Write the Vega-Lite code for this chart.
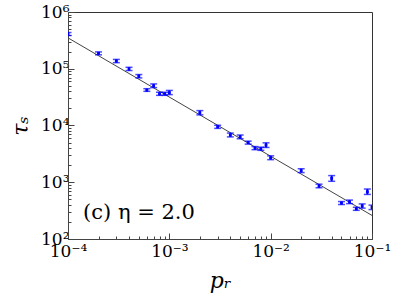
{
  "$schema": "https://vega.github.io/schema/vega-lite/v6.json",
  "width": 304,
  "height": 227,
  "autosize": {"type": "none"},
  "padding": {"left": 68, "top": 12, "right": 26, "bottom": 54},
  "background": "white",
  "config": {
    "view": {"stroke": "#333", "strokeWidth": 1},
    "axis": {
      "domainColor": "#444",
      "tickColor": "#444",
      "labelFont": "DejaVu Serif",
      "labelFontSize": 17,
      "labelColor": "#000",
      "titleFont": "DejaVu Serif",
      "titleFontStyle": "italic",
      "titleFontWeight": "normal",
      "titleColor": "#000",
      "grid": false
    }
  },
  "datasets": {
    "pts": [
      {"p": 0.0001, "tau": 410000, "lo": 385000, "hi": 435000},
      {"p": 0.0002, "tau": 187000, "lo": 176000, "hi": 198000},
      {"p": 0.0003, "tau": 137000, "lo": 128000, "hi": 146000},
      {"p": 0.0004, "tau": 99000, "lo": 93000, "hi": 106000},
      {"p": 0.0005, "tau": 74000, "lo": 69000, "hi": 79000},
      {"p": 0.0006, "tau": 42000, "lo": 40000, "hi": 44500},
      {"p": 0.0007, "tau": 50000, "lo": 46500, "hi": 54000},
      {"p": 0.0008, "tau": 36000, "lo": 34000, "hi": 38500},
      {"p": 0.0009, "tau": 36000, "lo": 34000, "hi": 38500},
      {"p": 0.001, "tau": 38000, "lo": 35000, "hi": 41500},
      {"p": 0.002, "tau": 16800, "lo": 15400, "hi": 18300},
      {"p": 0.003, "tau": 9500, "lo": 8900, "hi": 10100},
      {"p": 0.004, "tau": 6800, "lo": 6300, "hi": 7350},
      {"p": 0.005, "tau": 6300, "lo": 5850, "hi": 6800},
      {"p": 0.006, "tau": 5000, "lo": 4700, "hi": 5300},
      {"p": 0.007, "tau": 4000, "lo": 3750, "hi": 4250},
      {"p": 0.008, "tau": 3900, "lo": 3650, "hi": 4150},
      {"p": 0.009, "tau": 4500, "lo": 4100, "hi": 4950},
      {"p": 0.01, "tau": 2700, "lo": 2500, "hi": 2920},
      {"p": 0.02, "tau": 1600, "lo": 1480, "hi": 1730},
      {"p": 0.03, "tau": 860, "lo": 800, "hi": 925},
      {"p": 0.04, "tau": 1170, "lo": 1040, "hi": 1310},
      {"p": 0.05, "tau": 430, "lo": 405, "hi": 457},
      {"p": 0.06, "tau": 450, "lo": 420, "hi": 485},
      {"p": 0.07, "tau": 340, "lo": 320, "hi": 362},
      {"p": 0.08, "tau": 380, "lo": 350, "hi": 415},
      {"p": 0.09, "tau": 680, "lo": 610, "hi": 760},
      {"p": 0.1, "tau": 360, "lo": 330, "hi": 395}
    ],
    "fit": [
      {"p": 0.0001, "tau": 350000},
      {"p": 0.1, "tau": 260}
    ],
    "note": [
      {"p": 0.000141, "tau": 290, "label": "(c) η = 2.0"}
    ]
  },
  "layer": [
    {
      "data": {"name": "fit"},
      "mark": {"type": "line", "color": "#444", "strokeWidth": 1, "clip": true},
      "encoding": {
        "x": {
          "field": "p", "type": "quantitative",
          "scale": {"type": "log", "domain": [0.0001, 0.1], "nice": false},
          "axis": {
            "title": "pᵣ",
            "titleFontSize": 22,
            "titlePadding": 8,
            "values": [0.0001,0.0002,0.0003,0.0004,0.0005,0.0006,0.0007,0.0008,0.0009,0.001,0.002,0.003,0.004,0.005,0.006,0.007,0.008,0.009,0.01,0.02,0.03,0.04,0.05,0.06,0.07,0.08,0.09,0.1],
            "labelExpr": "abs(log(datum.value)/LN10 - round(log(datum.value)/LN10)) < 0.001 ? '10' + ['⁻⁴','⁻³','⁻²','⁻¹','⁰'][round(log(datum.value)/LN10)+4] : ''",
            "tickSize": {"condition": {"test": "abs(log(datum.value)/LN10 - round(log(datum.value)/LN10)) < 0.001", "value": -6}, "value": -3},
            "labelPadding": 10,
            "labelFlush": false,
            "labelOverlap": false
          }
        },
        "y": {
          "field": "tau", "type": "quantitative",
          "scale": {"type": "log", "domain": [100, 1000000], "nice": false},
          "axis": {
            "title": "τₛ",
            "titleFontSize": 22,
            "titlePadding": 8,
            "values": [100,200,300,400,500,600,700,800,900,1000,2000,3000,4000,5000,6000,7000,8000,9000,10000,20000,30000,40000,50000,60000,70000,80000,90000,100000,200000,300000,400000,500000,600000,700000,800000,900000,1000000],
            "labelExpr": "abs(log(datum.value)/LN10 - round(log(datum.value)/LN10)) < 0.001 ? '10' + ['⁰','¹','²','³','⁴','⁵','⁶'][round(log(datum.value)/LN10)] : ''",
            "tickSize": {"condition": {"test": "abs(log(datum.value)/LN10 - round(log(datum.value)/LN10)) < 0.001", "value": -6}, "value": -3},
            "labelPadding": 5,
            "labelFlush": false,
            "labelOverlap": false
          }
        }
      }
    },
    {
      "data": {"name": "pts"},
      "mark": {"type": "rule", "color": "#0000ff", "strokeWidth": 2, "clip": true},
      "encoding": {
        "x": {"field": "p", "type": "quantitative"},
        "y": {"field": "lo", "type": "quantitative"},
        "y2": {"field": "hi"}
      }
    },
    {
      "data": {"name": "pts"},
      "mark": {"type": "tick", "color": "#0000ff", "orient": "horizontal", "size": 7, "thickness": 1.5, "clip": true},
      "encoding": {
        "x": {"field": "p", "type": "quantitative"},
        "y": {"field": "lo", "type": "quantitative"}
      }
    },
    {
      "data": {"name": "pts"},
      "mark": {"type": "tick", "color": "#0000ff", "orient": "horizontal", "size": 7, "thickness": 1.5, "clip": true},
      "encoding": {
        "x": {"field": "p", "type": "quantitative"},
        "y": {"field": "hi", "type": "quantitative"}
      }
    },
    {
      "data": {"name": "pts"},
      "mark": {"type": "point", "shape": "square", "filled": true, "color": "#0000ff", "size": 8, "opacity": 1, "clip": true},
      "encoding": {
        "x": {"field": "p", "type": "quantitative"},
        "y": {"field": "tau", "type": "quantitative"}
      }
    },
    {
      "data": {"name": "note"},
      "mark": {"type": "text", "font": "DejaVu Serif", "fontSize": 21, "align": "left", "baseline": "middle", "color": "#000"},
      "encoding": {
        "x": {"field": "p", "type": "quantitative"},
        "y": {"field": "tau", "type": "quantitative"},
        "text": {"field": "label"}
      }
    }
  ]
}
